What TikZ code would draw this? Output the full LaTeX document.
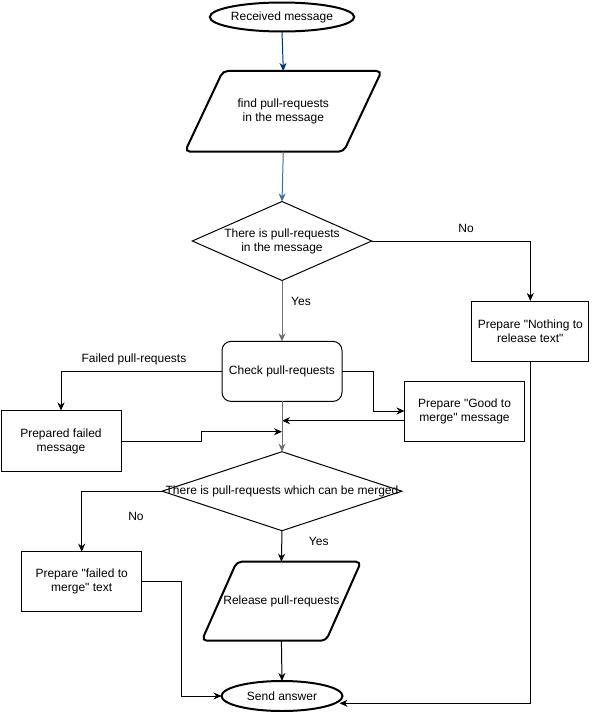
\documentclass[tikz,border=0pt]{standalone}
\usepackage{fontspec}
\setmainfont{Liberation Sans}[Ligatures=TeXOff]
\usetikzlibrary{shapes.geometric,arrows.meta,calc}
\definecolor{darkblue}{RGB}{0,51,102}
\definecolor{midblue}{RGB}{70,110,150}
\definecolor{lgray}{RGB}{110,110,110}
\tikzset{
  base/.style={font=\fontsize{12}{14}\selectfont, align=center, inner sep=0pt, outer sep=0pt},
  proc/.style={base, draw, rectangle, line width=1pt, minimum width=120, minimum height=60},
  roundproc/.style={proc, rounded corners=9pt},
  term/.style={base, draw, ellipse, line width=2pt, minimum width=121, minimum height=29},
  io/.style={base, rectangle},
  iopath/.style={line width=2pt, rounded corners=5pt},
  decision/.style={base, draw, diamond, line width=1pt},
  lbl/.style={font=\fontsize{12}{14}\selectfont, inner sep=0pt},
  conn/.style={line width=1pt, -{Stealth[length=8pt,width=7pt,inset=2.5pt]}},
}
\begin{document}
\begin{tikzpicture}[x=1pt,y=-1pt]
\useasboundingbox (0,0) rectangle (592,712);

% nodes
\node[term] (rec) at (282,17) {Received message};
\node[io, minimum width=196.7, minimum height=80.7] (find) at (283.3,111.3) {find pull-requests\\in the message};
\draw[iopath] ([xshift=38]find.north west) -- (find.north east) -- ([xshift=-38]find.south east) -- (find.south west) -- cycle;

\node[decision, minimum width=179.4, minimum height=79] (d1) at (282,241) {};
\node[base] (d1t) at (d1.center) {There is pull-requests\\in the message};

\node[proc, minimum width=117.3] (nothing) at (530.3,331) {Prepare "Nothing to\\release text"};
\node[roundproc] (check) at (282,371.4) {Check pull-requests};
\node[proc, minimum height=61] (failed) at (61,441) {Prepared failed\\message};
\node[proc] (good) at (464.5,411) {Prepare "Good to\\merge" message};

\node[decision, minimum width=239.7, minimum height=79] (d2) at (282,491.2) {};
\node[base] (d2t) at (d2.center) {There is pull-requests which can be merged};

\node[proc] (failmerge) at (81.7,581.7) {Prepare "failed to\\merge" text};
\node[io, minimum width=159.3, minimum height=79] (release) at (281.4,601.2) {Release pull-requests};
\draw[iopath] ([xshift=35]release.north west) -- (release.north east) -- ([xshift=-35]release.south east) -- (release.south west) -- cycle;

\node[term, minimum height=30] (send) at (282,696) {Send answer};

% helper coordinates
\coordinate (j1) at ($(check.south)!(0,420.7)!(d2.north)$);
\coordinate (j2) at ($(check.south)!(0,431.7)!(d2.north)$);

% connectors
\draw[conn, darkblue] (rec.south) -- (find.north);
\draw[conn, midblue] (find.south) -- (d1.north);
\draw[conn] (d1.east) -| (nothing.north);
\node[lbl] (lno1) at (466,228) {No};
\draw[conn, lgray] (d1.south) -- (check.north);
\node[lbl] (lyes1) at (301,301) {Yes};
\draw[conn] (check.west) -| (failed.north);
\node[lbl] (lfail) at (134,359) {Failed pull-requests};
\draw[conn] (check.east) -- ++(31.6,0) |- (good.west);
\draw[conn] ([yshift=-9.7pt]good.west) -- (j1);
\draw[conn] (failed.east) -- (201,441) -- (201,431.7) -- (j2);
\draw[conn, lgray] (check.south) -- (d2.north);
\draw[conn] (d2.west) -| (failmerge.north);
\node[lbl] (lno2) at (136,516) {No};
\draw[conn] (d2.south) -- (release.north);
\node[lbl] (lyes2) at (318.7,541.7) {Yes};
\draw[conn] (release.south) -- (send.north);
\draw[conn] (failmerge.east) -- (181.7,581.7) |- (send.west);
\draw[conn] (nothing.south) |- ([xshift=-3pt,yshift=-7.3pt]send.east);
\end{tikzpicture}
\end{document}
